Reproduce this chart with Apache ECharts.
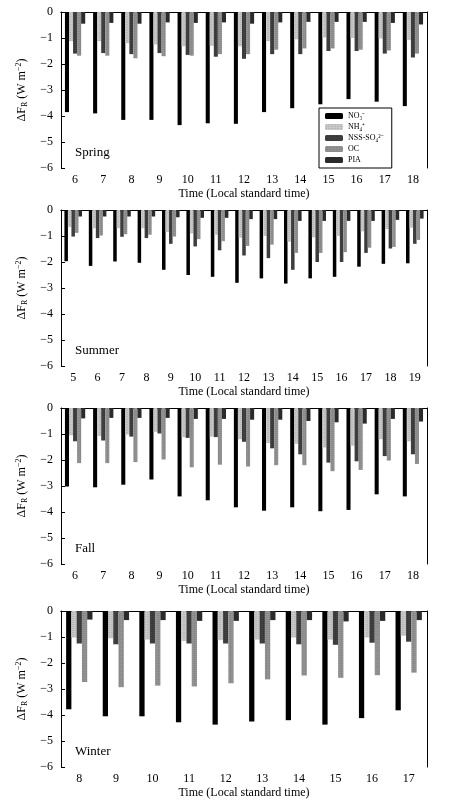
<!DOCTYPE html>
<html>
<head>
<meta charset="utf-8">
<script src="https://cdn.jsdelivr.net/npm/echarts@6/dist/echarts.min.js"></script>
<style>html,body{margin:0;background:#fff}#main{width:450px;height:810px}</style>
</head>
<body>
<div id="main"></div>
<script>
// 季节、时间
var seasons = ['Spring', 'Summer', 'Fall', 'Winter'];
var hoursSpring = [6,7,8,9,10,11,12,13,14,15,16,17,18];
var hoursSummer = [5,6,7,8,9,10,11,12,13,14,15,16,17,18,19];
var hoursFall = [6,7,8,9,10,11,12,13,14,15,16,17,18];
var hoursWinter = [8,9,10,11,12,13,14,15,16,17];
var speciesNames = ['NO₃⁻', 'NH₄⁺', 'NSS-SO₄²⁻', 'OC', 'PIA'];
var yTicks = [0,-1,-2,-3,-4,-5,-6];

// Spring
var springNO3 = [-3.85,-3.9,-4.15,-4.15,-4.35,-4.28,-4.3,-3.85,-3.7,-3.55,-3.35,-3.45,-3.62];
var springNH4 = [-1.12,-1.12,-1.2,-1.25,-1.32,-1.3,-1.32,-1.12,-1.05,-0.98,-1.0,-1.02,-1.08];
var springSO4 = [-1.6,-1.58,-1.62,-1.58,-1.65,-1.72,-1.8,-1.62,-1.62,-1.5,-1.5,-1.6,-1.75];
var springOC = [-1.68,-1.68,-1.78,-1.7,-1.68,-1.62,-1.62,-1.45,-1.4,-1.4,-1.45,-1.48,-1.6];
var springPIA = [-0.45,-0.42,-0.45,-0.4,-0.42,-0.4,-0.45,-0.4,-0.38,-0.38,-0.38,-0.42,-0.48];
// Summer
var summerNO3 = [-1.97,-2.15,-1.98,-2.03,-2.3,-2.5,-2.57,-2.8,-2.63,-2.83,-2.63,-2.57,-2.18,-2.07,-2.05];
var summerNH4 = [-0.65,-0.7,-0.7,-0.7,-0.85,-0.9,-0.95,-1.07,-1.0,-1.22,-1.05,-1.0,-0.82,-0.73,-0.68];
var summerSO4 = [-1.02,-1.08,-1.03,-1.08,-1.3,-1.4,-1.55,-1.75,-1.85,-2.3,-2.0,-2.0,-1.65,-1.48,-1.3];
var summerOC = [-0.88,-0.98,-0.93,-0.95,-1.02,-1.12,-1.2,-1.38,-1.33,-1.65,-1.65,-1.62,-1.45,-1.42,-1.15];
var summerPIA = [-0.25,-0.25,-0.25,-0.25,-0.28,-0.3,-0.3,-0.35,-0.35,-0.42,-0.42,-0.42,-0.42,-0.38,-0.33];
// Fall
var fallNO3 = [-3.02,-3.05,-2.95,-2.75,-3.4,-3.55,-3.82,-3.95,-3.82,-3.97,-3.92,-3.32,-3.4];
var fallNH4 = [-1.05,-1.08,-1.02,-0.92,-1.12,-1.1,-1.2,-1.35,-1.38,-1.52,-1.45,-1.2,-1.28];
var fallSO4 = [-1.28,-1.25,-1.1,-0.98,-1.15,-1.12,-1.3,-1.55,-1.78,-2.1,-2.05,-1.85,-1.78];
var fallOC = [-2.12,-2.12,-2.08,-1.98,-2.28,-2.18,-2.25,-2.2,-2.2,-2.43,-2.38,-2.02,-2.15];
var fallPIA = [-0.4,-0.38,-0.38,-0.38,-0.42,-0.42,-0.45,-0.45,-0.5,-0.55,-0.6,-0.42,-0.52];
// Winter
var winterNO3 = [-3.78,-4.05,-4.05,-4.28,-4.37,-4.25,-4.2,-4.37,-4.12,-3.82];
var winterNH4 = [-1.02,-1.05,-1.1,-1.15,-1.12,-1.1,-1.02,-1.1,-1.02,-0.95];
var winterSO4 = [-1.25,-1.28,-1.25,-1.25,-1.25,-1.25,-1.28,-1.3,-1.22,-1.18];
var winterOC = [-2.73,-2.93,-2.87,-2.9,-2.78,-2.63,-2.48,-2.57,-2.47,-2.37];
var winterPIA = [-0.33,-0.35,-0.35,-0.38,-0.38,-0.35,-0.35,-0.4,-0.38,-0.35];

var panels = [
    {hours: hoursSpring, data: [springNO3, springNH4, springSO4, springOC, springPIA], top: 12},
    {hours: hoursSummer, data: [summerNO3, summerNH4, summerSO4, summerOC, summerPIA], top: 210},
    {hours: hoursFall, data: [fallNO3, fallNH4, fallSO4, fallOC, fallPIA], top: 408},
    {hours: hoursWinter, data: [winterNO3, winterNH4, winterSO4, winterOC, winterPIA], top: 611}
];

var font = 'Liberation Serif';
var colors = ['#000', '#c8c8c8', '#3a3a3a', '#8a8a8a', '#2a2a2a'];
var decals = [
    null,
    {symbol: 'rect', symbolSize: 0.5, dashArrayX: [2, 1], dashArrayY: [1, 1], color: 'rgba(90,90,90,0.6)'},
    {symbol: 'rect', symbolSize: 0.5, dashArrayX: [2, 1], dashArrayY: [1, 1], color: 'rgba(140,140,140,0.5)'},
    {symbol: 'rect', symbolSize: 0.5, dashArrayX: [2, 1], dashArrayY: [1, 1], color: 'rgba(220,220,220,0.6)'},
    null
];

var myChart = echarts.init(document.getElementById('main'));
var grids = [], xAxes = [], yAxes = [], series = [], graphics = [];
panels.forEach(function (p, i) {
    grids.push({left: 61, right: 23, top: p.top, height: 156});
    xAxes.push({
        type: 'category', gridIndex: i, data: p.hours,
        name: 'Time (Local standard time)', nameLocation: 'middle', nameGap: 20,
        nameTextStyle: {fontFamily: font, fontSize: 12, color: '#000'},
        axisLine: {lineStyle: {color: '#000'}},
        axisTick: {inside: true, alignWithLabel: true, length: 4, lineStyle: {color: '#000'}},
        axisLabel: {fontFamily: font, fontSize: 12, color: '#000', margin: 6},
        position: 'bottom'
    });
    yAxes.push({
        type: 'value', gridIndex: i, min: -6, max: 0, interval: 1,
        name: '{a|ΔF}{s|R}{a| (W m}{p|−2}{a|)}', nameLocation: 'middle', nameGap: 28,
        nameTextStyle: {rich: {
            a: {fontFamily: font, fontSize: 12, color: '#000'},
            s: {fontFamily: font, fontSize: 8, color: '#000', verticalAlign: 'bottom', padding: [6, 0, 0, 0]},
            p: {fontFamily: font, fontSize: 8, color: '#000', verticalAlign: 'top'}
        }},
        axisLine: {show: true, lineStyle: {color: '#000'}},
        axisTick: {show: true, inside: true, length: 4, lineStyle: {color: '#000'}},
        splitLine: {show: false},
        axisLabel: {fontFamily: font, fontSize: 12, color: '#000', margin: 8,
            formatter: function (v) { return v < 0 ? '−' + (-v) : v; }}
    });
    // 上边和右边的框线
    xAxes.push({type: 'category', gridIndex: i, data: p.hours, position: 'top',
        axisLine: {lineStyle: {color: '#000'}}, axisTick: {show: false}, axisLabel: {show: false}});
    yAxes.push({type: 'value', gridIndex: i, min: -6, max: 0, position: 'right',
        axisLine: {show: true, lineStyle: {color: '#000'}}, axisTick: {show: false},
        axisLabel: {show: false}, splitLine: {show: false}});
    p.data.forEach(function (d, k) {
        series.push({
            type: 'bar', name: speciesNames[k], xAxisIndex: i * 2, yAxisIndex: i * 2,
            data: d, barGap: '0%', barCategoryGap: '28%',
            itemStyle: {color: colors[k], decal: decals[k] || undefined}
        });
    });
    graphics.push({type: 'text', left: 75, top: p.top + 134,
        style: {text: seasons[i], font: '13px "Liberation Serif"', fill: '#000'}});
});

var option = {
    animation: false,
    aria: {enabled: true, decal: {show: false}},
    grid: grids, xAxis: xAxes, yAxis: yAxes, series: series, graphic: graphics,
    legend: {
        data: speciesNames, orient: 'vertical', left: 319, top: 108,
        itemWidth: 18, itemHeight: 6, itemGap: 3,
        borderColor: '#000', borderWidth: 1, padding: [4, 8, 4, 6],
        backgroundColor: '#fff',
        textStyle: {fontFamily: font, fontSize: 8, color: '#000'}
    }
};
myChart.setOption(option);
</script>
</body>
</html>
